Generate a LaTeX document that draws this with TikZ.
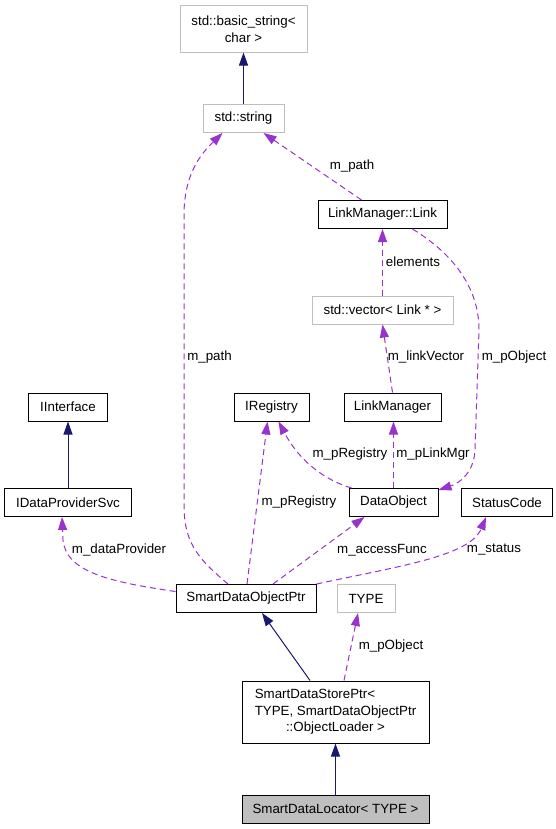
\documentclass[tikz,border=0pt]{standalone}
\usepackage{fontspec}
\setmainfont{Liberation Sans}
\usetikzlibrary{arrows.meta}
\definecolor{navyc}{HTML}{191970}
\definecolor{purp}{HTML}{9A32CD}
\definecolor{grayb}{HTML}{BFBFBF}
\tikzset{
  box/.style={draw=black, line width=1bp, rectangle, inner sep=0pt, minimum height=28bp, align=center,
    font=\fontsize{13.33bp}{16.5bp}\selectfont},
  gbox/.style={box, draw=grayb},
  inh/.style={draw=navyc, line width=1bp, -{Triangle[length=13bp,width=9bp]}},
  dep/.style={draw=purp, line width=1bp, dash pattern=on 6bp off 4bp, -{Triangle[length=13bp,width=9bp]}},
  lbl/.style={inner sep=0pt, font=\fontsize{13.33bp}{16.5bp}\selectfont}
}
\begin{document}
\begin{tikzpicture}[x=1bp,y=-1bp]
\useasboundingbox[fill=white] (0,0) rectangle (556,829);
% nodes
\node[gbox, minimum width=127bp, minimum height=46bp] (bstr) at (243.5,29) {std::basic\_string<\\char >};
\node[gbox, minimum width=81bp] (str) at (243.5,118.5) {std::string};
\node[box, minimum width=129bp] (link) at (382.5,214.5) {LinkManager::Link};
\node[gbox, minimum width=141bp] (vec) at (382.5,310) {std::vector< Link * >};
\node[box, minimum width=78bp] (iint) at (68,407) {IInterface};
\node[box, minimum width=75bp] (ireg) at (271.5,407) {IRegistry};
\node[box, minimum width=97bp] (lmgr) at (392.5,407) {LinkManager};
\node[box, minimum width=126bp] (idps) at (68,502.5) {IDataProviderSvc};
\node[box, minimum width=89bp] (dobj) at (393.5,502.5) {DataObject};
\node[box, minimum width=91bp] (stat) at (507,502.5) {StatusCode};
\node[box, minimum width=140bp] (sdop) at (246,598.5) {SmartDataObjectPtr};
\node[gbox, minimum width=58bp] (type) at (366,598.5) {TYPE};
\node[box, minimum width=187bp, minimum height=62bp] (sdsp) at (335.5,712)
  {\begin{tabular}{@{}c@{}}\multicolumn{1}{@{}l@{}}{SmartDataStorePtr<}\\ TYPE, SmartDataObjectPtr\\::ObjectLoader >\end{tabular}};
\node[box, fill=grayb, minimum width=187bp] (sdl) at (335.5,809) {SmartDataLocator< TYPE >};
% edges
\draw[inh] (str) -- (bstr);
\draw[dep] ([xshift=-18bp]sdop.north) .. controls (200,560) and (184,545) .. (184,505) -- (184,215) .. controls (184,170) and (205,150) .. ([xshift=-21bp]str.south);
\draw[dep] ([xshift=-21bp]link.north) -- ([xshift=20bp]str.south);
\draw[dep] (vec) -- (link);
\draw[dep] (lmgr.north) -- (vec.south);
\draw[dep] ([xshift=30bp]link.south) .. controls (450,252) and (479,285) .. (479,330) -- (475,450) .. controls (474,472) and (460,483) .. ([yshift=-2bp]dobj.north east);
\draw[inh] (idps) -- (iint);
\draw[dep] ([xshift=-42bp]dobj.north) .. controls (325,480) and (300,462) .. ([xshift=7bp]ireg.south);
\draw[dep] (dobj.north) -- (dobj.north |- lmgr.south);
\draw[dep] ([xshift=1bp]sdop.north) -- ([xshift=-4bp]ireg.south);
\draw[dep] ([yshift=7bp]sdop.west) .. controls (110,582) and (66,572) .. (63,540) -- ([xshift=-6bp]idps.south);
\draw[dep] ([xshift=27bp]sdop.north) -- ([xshift=-29bp]dobj.south);
\draw[dep] (sdop.north east) .. controls (400,566) and (470,556) .. ([xshift=-21bp]stat.south);
\draw[inh] ([xshift=-25.5bp]sdsp.north) -- ([xshift=16bp]sdop.south);
\draw[dep] ([xshift=8.5bp]sdsp.north) -- ([xshift=-8bp]type.south);
\draw[inh] (sdl) -- (sdsp);
% labels
\node[lbl] (l1) at (209.5,357) {m\_path};
\node[lbl] (l2) at (352,166) {m\_path};
\node[lbl] (l3) at (413,262) {elements};
\node[lbl] (l4) at (426,357) {m\_linkVector};
\node[lbl] (l5) at (514,357) {m\_pObject};
\node[lbl] (l6) at (350,454) {m\_pRegistry};
\node[lbl] (l7) at (433,454) {m\_pLinkMgr};
\node[lbl] (l8) at (299,502) {m\_pRegistry};
\node[lbl] (l9) at (119,550) {m\_dataProvider};
\node[lbl] (l10) at (382,550) {m\_accessFunc};
\node[lbl] (l11) at (494,550) {m\_status};
\node[lbl] (l12) at (391,646) {m\_pObject};
\end{tikzpicture}
\end{document}
